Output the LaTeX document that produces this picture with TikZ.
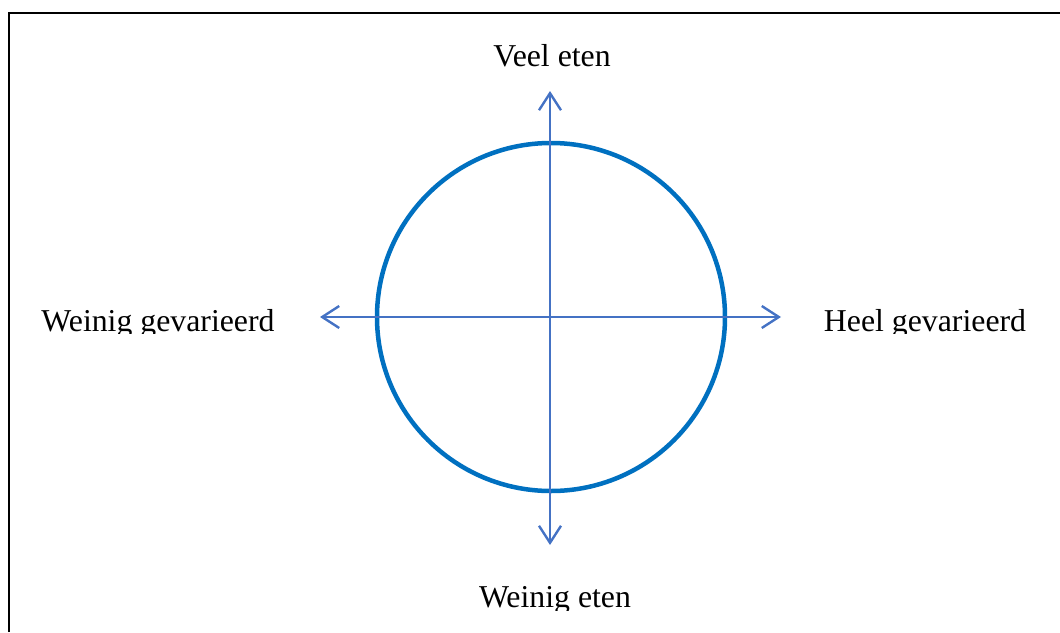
\documentclass[tikz,border=0pt]{standalone}
\usepackage{fontspec}
\setmainfont{Liberation Serif}
\usepackage{xcolor}
\usepackage{tikz}
\usetikzlibrary{
  arrows.meta,
  positioning,
  calc
}
\definecolor{RingBlue}{RGB}{0,112,192}
\definecolor{AxisBlue}{RGB}{68,114,196}
\definecolor{FrameBlack}{RGB}{0,0,0}
\tikzset{
  %%── labels ──────────────────────────────────────────────
  axlabel/.style = {
    inner sep = 0pt, anchor = base,
    font = \fontsize{31.8}{38}\selectfont
  },
  %%── ring + axes ─────────────────────────────────────────
  ring/.style = {draw = RingBlue, line width = 4.5pt},
  axis/.style = {
    {Straight Barb[length=17pt, width=22pt, line width=2.4pt]}-{Straight Barb[length=17pt, width=22pt, line width=2.4pt]},
    line width = 2.4pt, color = AxisBlue
  },
  frame/.style = {draw = FrameBlack, line width = 2pt},
}

\begin{document}
\begin{tikzpicture}[x=1pt, y=-1pt]
  \useasboundingbox (0,0) rectangle (1060,632);
  %% frame (left and top edges only)
  \draw[frame] (9,632) -- (9,13) -- (1060,13);

  \node[ring, circle, minimum size = 348pt, inner sep = 0pt] (circ) at (551,317) {};

  \coordinate (west)  at (320,317);
  \coordinate (east)  at (781,317);
  \coordinate (north) at (550,91);
  \coordinate (south) at (550,545);
  \draw[axis] (west) -- (east);
  \draw[axis] (south) -- (north);

  \node[axlabel] (top) at (552,66) {Veel eten};
  \begin{scope}
    \clip (0,0) rectangle (1060,333);
    \node[axlabel] (left)  at (158,331) {Weinig gevarieerd};
    \node[axlabel] (right) at (925,331) {Heel gevarieerd};
  \end{scope}
  \begin{scope}
    \clip (0,0) rectangle (1060,610);
    \node[axlabel] (bottom) at (555,607) {Weinig eten};
  \end{scope}
\end{tikzpicture}
\end{document}
